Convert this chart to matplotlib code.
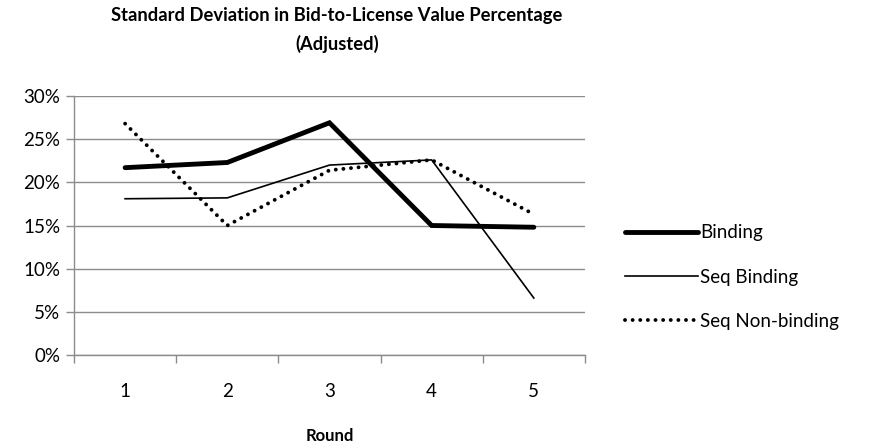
import matplotlib.pyplot as plt
from matplotlib.ticker import FixedLocator, PercentFormatter

plt.rcParams["font.family"] = ["Lato", "DejaVu Sans"]

rounds = [1, 2, 3, 4, 5]
round_labels = ["1", "2", "3", "4", "5"]
binding = [21.7, 22.3, 26.9, 15.0, 14.8]
seq_binding = [18.1, 18.2, 22.0, 22.6, 6.6]
seq_nonbinding = [26.8, 15.0, 21.4, 22.6, 16.3]

fig = plt.figure(figsize=(8.73, 4.47), dpi=100)
ax = fig.add_axes([0.0848, 0.2058, 0.5852, 0.5794])

grid_c = "#8c8c8c"
ax.set_ylim(0, 30)
ax.set_xlim(0.5, 5.5)
ax.set_yticks(range(0, 31, 5))
ax.yaxis.set_major_formatter(PercentFormatter(decimals=0))
ax.yaxis.grid(True, color=grid_c, lw=1.0)
ax.set_axisbelow(True)

# category boundaries carry the tick marks, centres carry the labels
ax.xaxis.set_major_locator(FixedLocator([0.5, 1.5, 2.5, 3.5, 4.5, 5.5]))
ax.xaxis.set_major_formatter(plt.NullFormatter())
ax.xaxis.set_minor_locator(FixedLocator(rounds))
ax.set_xticklabels(round_labels, minor=True)
ax.tick_params(axis="x", which="major", length=6, color=grid_c, width=1)
ax.tick_params(axis="x", which="minor", length=0, pad=20, labelsize=13.5)
ax.tick_params(axis="y", length=6, color=grid_c, width=1, labelsize=13.5, pad=4)

for s in ("top", "right"):
    ax.spines[s].set_visible(False)
for s in ("left", "bottom"):
    ax.spines[s].set_color(grid_c)
    ax.spines[s].set_linewidth(1)

ax.plot(rounds, binding, color="black", lw=3.5, solid_capstyle="round",
        solid_joinstyle="miter", label="Binding")
ax.plot(rounds, seq_binding, color="black", lw=1.2, label="Seq Binding")
ax.plot(rounds, seq_nonbinding, color="black", lw=2.8,
        linestyle=(0, (0.01, 1.95)), dash_capstyle="round", label="Seq Non-binding")

ax.set_xlabel("Round", fontsize=12, fontweight="bold", labelpad=20)
fig.text(0.386, 0.985, "Standard Deviation in Bid-to-License Value Percentage\n(Adjusted)",
         ha="center", va="top", fontsize=13.2, fontweight="bold", linespacing=1.75)

fig.legend(loc="upper left", bbox_to_anchor=(0.716, 0.498), frameon=False,
           fontsize=13.5, handlelength=3.9, handletextpad=0.1, labelspacing=1.45,
           borderaxespad=0, borderpad=0)

fig.savefig("out.png", dpi=100)
